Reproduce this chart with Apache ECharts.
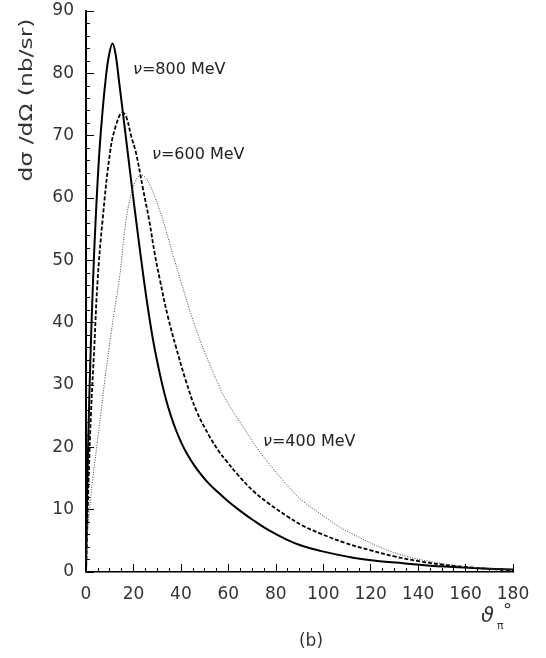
<!DOCTYPE html>
<html>
<head>
<meta charset="utf-8">
<script src="https://cdn.jsdelivr.net/npm/echarts@6/dist/echarts.min.js"></script>
<style>
html,body{margin:0;padding:0;background:#fff;}
#main{width:546px;height:658px;}
</style>
</head>
<body>
<div id="main"></div>
<script>
// 数据: [角度, dσ/dΩ]
var nu800 = [[0,0],[0.5,12],[1,22],[2,36],[3,47],[4,56],[5.6,67.2],[7,74],[8,78],[9.5,82.5],[11.2,84.8],[12.5,83],[14,78.5],[16,72.3],[18,66],[20,59.8],[22,53.8],[24,48],[26,42.6],[28,37.8],[30,33.8],[32,30.3],[34,27.3],[36,24.8],[38,22.7],[40,20.9],[42.5,19],[46,16.9],[51,14.5],[56.5,12.5],[60,11.3],[65,9.8],[70.5,8.3],[77,6.7],[84.6,5.2],[91,4.2],[98.6,3.4],[112.6,2.3],[125,1.7],[133.7,1.4],[145,1.0],[154.8,0.8],[167,0.55],[180,0.4]];
var nu600 = [[0,0],[0.5,7],[1.1,14.8],[2.1,25.5],[3.5,36.1],[4.9,46.8],[7,56.5],[10.1,67.2],[12.5,71.5],[15.5,73.7],[17,73],[19,70],[21.1,67.2],[24,61.5],[26.6,56.5],[29,51],[31.2,46.8],[34.5,41],[38,36],[42,30.8],[46.4,26],[52,21.8],[56.5,19.1],[59,17.9],[64,15.6],[70.5,13],[77,11],[84.6,9],[91,7.5],[98.6,6.2],[109,4.7],[119.7,3.5],[130,2.5],[140.8,1.7],[150,1.2],[160,0.8],[170,0.5],[180,0.3]];
var nu400 = [[0,1.5],[0.7,6.7],[2.8,14.8],[4.5,20],[6.3,25.5],[8,31],[9.8,36.1],[12,42],[14,46.8],[16.9,56.5],[19,60.5],[21,62.8],[23.2,63.7],[25,63.3],[27,62],[29,60.2],[31,58.1],[33,55.7],[35,53.1],[37.5,49.8],[40,46.6],[45,40.5],[50,35.3],[56.5,29.5],[59,27.6],[65,24],[70.5,20.8],[74.6,18.6],[84.6,14],[91,11.5],[98.6,9.4],[107,7.2],[115.5,5.5],[125,3.8],[135.2,2.5],[145,1.7],[154.8,1.1],[165,0.7],[180,0.35]];

var xTicks = [0,20,40,60,80,100,120,140,160,180];
var yTicks = [0,10,20,30,40,50,60,70,80,90];

// 标注文字 [文字, 角度, 值]
var notes = [["800 MeV",19.8,80.5],["600 MeV",27.8,66.9],["400 MeV",74.6,20.9]];

var FONT = "DejaVu Sans";

var chart = echarts.init(document.getElementById('main'), null, {renderer:'canvas'});

function curve(name,data,style){
    return {name:name,type:'line',data:data,smooth:0.4,showSymbol:false,lineStyle:style};
}

var option = {
    backgroundColor:'#fff',
    animation:false,
    grid:{left:86,right:33,top:11,bottom:86,containLabel:false},
    xAxis:[{
        type:'value',min:xTicks[0],max:xTicks[xTicks.length-1],interval:20,
        axisLine:{show:true,onZero:false,lineStyle:{color:'#000',width:2}},
        axisTick:{show:true,inside:true,length:8,lineStyle:{color:'#000',width:1}},
        minorTick:{show:true,splitNumber:4,length:4,lineStyle:{color:'#000',width:1}},
        splitLine:{show:false},
        axisLabel:{margin:14,color:'#333',fontFamily:FONT,fontSize:17}
    },{
        type:'value',position:'top',min:0,max:180,
        axisLine:{show:true,lineStyle:{color:'#777',width:1}},
        axisTick:{show:false},axisLabel:{show:false},splitLine:{show:false}
    }],
    yAxis:[{
        type:'value',min:yTicks[0],max:yTicks[yTicks.length-1],interval:10,
        axisLine:{show:true,onZero:false,lineStyle:{color:'#000',width:2}},
        axisTick:{show:true,inside:true,length:8,lineStyle:{color:'#000',width:1}},
        minorTick:{show:true,splitNumber:5,length:4,lineStyle:{color:'#000',width:1}},
        splitLine:{show:false},
        axisLabel:{margin:12,color:'#333',fontFamily:FONT,fontSize:17}
    },{
        type:'value',position:'right',min:0,max:90,
        axisLine:{show:true,lineStyle:{color:'#000',width:1}},
        axisTick:{show:false},axisLabel:{show:false},splitLine:{show:false}
    }],
    series:[
        curve('800',nu800,{color:'#000',width:2,type:'solid'}),
        curve('600',nu600,{color:'#000',width:1.8,type:[4,2]}),
        curve('400',nu400,{color:'#444',width:1,type:[1,1.5]})
    ]
};
chart.setOption(option);

// 文字标注
var g = [];
for(var i=0;i<notes.length;i++){
    var p = chart.convertToPixel({gridIndex:0},[notes[i][1],notes[i][2]]);
    g.push({
        type:'text',x:p[0],y:p[1],
        style:{
            text:'{n|ν}{t|=' + notes[i][0] + '}',
            verticalAlign:'middle',align:'left',
            rich:{
                n:{fontFamily:FONT,fontStyle:'italic',fontSize:16,fill:'#222'},
                t:{fontFamily:FONT,fontSize:16,fill:'#222'}
            }
        }
    });
}
// y 轴标题
g.push({
    type:'text',x:27,y:100,rotation:Math.PI/2,scaleX:1.3,
    style:{text:'dσ /dΩ (nb/sr)',fontFamily:FONT,fontSize:18,fill:'#333',align:'center',verticalAlign:'middle'}
});
// x 轴标题 ϑπ°
g.push({type:'text',x:481,y:617,style:{text:'ϑ',fontFamily:FONT,fontStyle:'italic',fontSize:21,fill:'#333',align:'left',verticalAlign:'middle'}});
g.push({type:'text',x:497,y:626,style:{text:'π',fontFamily:FONT,fontSize:11,fill:'#333',align:'left',verticalAlign:'middle'}});
g.push({type:'text',x:503,y:611,style:{text:'°',fontFamily:FONT,fontSize:18,fill:'#333',align:'left',verticalAlign:'middle'}});
// (b)
g.push({type:'text',x:311,y:642,style:{text:'(b)',fontFamily:FONT,fontSize:17,fill:'#333',align:'center',verticalAlign:'middle'}});

chart.setOption({graphic:g});
</script>
</body>
</html>
